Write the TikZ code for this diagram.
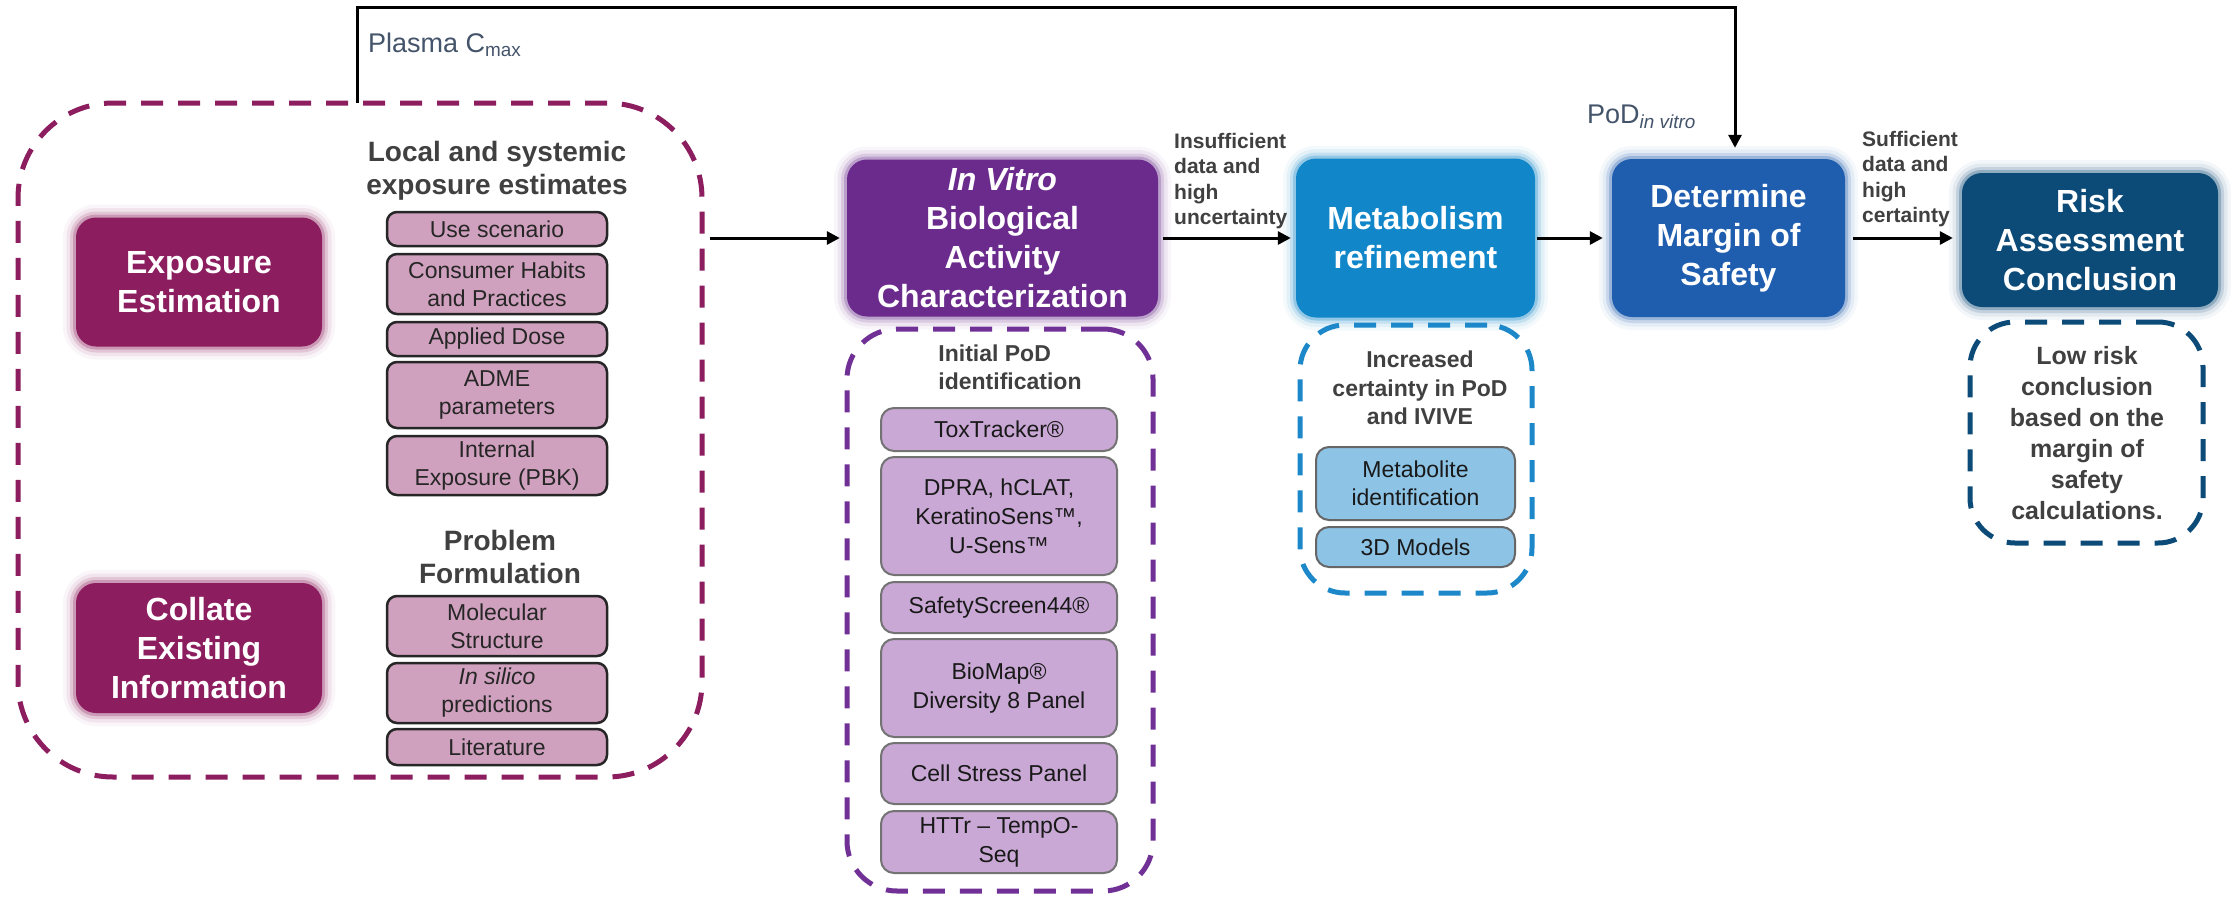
\documentclass[tikz,border=0pt]{standalone}
\usepackage{fontspec}
\setmainfont{Liberation Sans}
\usetikzlibrary{arrows.meta}
\definecolor{cExp}{RGB}{140,29,94}
\definecolor{cVit}{RGB}{107,43,140}
\definecolor{cMet}{RGB}{17,135,202}
\definecolor{cDet}{RGB}{31,93,174}
\definecolor{cRisk}{RGB}{12,74,119}
\definecolor{cSubL}{RGB}{208,161,190}
\definecolor{cSubV}{RGB}{201,168,213}
\definecolor{cSubM}{RGB}{141,196,230}
\definecolor{cHead}{RGB}{64,64,64}
\definecolor{cSlate}{RGB}{68,84,106}
\definecolor{cVitDash}{RGB}{112,48,150}
\definecolor{cMetDash}{RGB}{28,136,201}
\begin{document}
\begin{tikzpicture}[x=1pt,y=-1pt,
  mainbox/.style={rectangle, rounded corners=20pt, fill=#1, text=white, align=center,
    inner sep=0pt, font=\fontsize{32}{39}\selectfont\bfseries,
    preaction={draw=#1!35, line width=26pt, opacity=0.12},
    preaction={draw=#1!45, line width=19pt, opacity=0.18},
    preaction={draw=#1!55, line width=12pt, opacity=0.3},
    preaction={draw=#1!70, line width=6pt, opacity=0.45}},
  subL/.style={rectangle, rounded corners=10pt, fill=cSubL, draw=black!85, line width=2.5pt,
    align=center, inner sep=0pt, minimum width=220pt, text=black!85,
    font=\fontsize{23}{28}\selectfont},
  subV/.style={rectangle, rounded corners=13pt, fill=cSubV, draw=black!55, line width=2pt,
    align=center, inner sep=0pt, minimum width=236pt, text=black!90,
    font=\fontsize{23}{29}\selectfont},
  subM/.style={rectangle, rounded corners=13pt, fill=cSubM, draw=black!60, line width=2pt,
    align=center, inner sep=0pt, minimum width=199pt, text=black!90,
    font=\fontsize{23}{28}\selectfont},
  grpbox/.style={rectangle, draw=#1, line width=5pt, dash pattern=on 22pt off 15pt,
    inner sep=0pt},
  headtxt/.style={text=cHead, align=center, inner sep=0pt, font=\bfseries},
  lbl/.style={text=cSlate, inner sep=0pt, font=\fontsize{27}{32}\selectfont},
  sidelbl/.style={text=cHead, align=left, anchor=north west, inner sep=0pt,
    font=\fontsize{21}{25.5}\selectfont\bfseries},
  arr/.style={draw=black, line width=3pt, line join=miter,
    -{Triangle[length=13pt,width=13pt]}}
]
\useasboundingbox (0,0) rectangle (2231,897);
\fill[white] (0,0) rectangle (2231,897);

% ---------- left group ----------
\node[grpbox=cExp, rounded corners=95pt, minimum width=684pt, minimum height=674pt] (lgroup) at (360,440) {};
\node[mainbox=cExp, minimum width=246pt, minimum height=129pt] (exp) at (199,282) {Exposure\\Estimation};
\node[mainbox=cExp, minimum width=246pt, minimum height=130pt] (col) at (199,648) {Collate\\Existing\\Information};

\node[headtxt, font=\fontsize{28}{33}\selectfont\bfseries] (h1) at (497,171) {Local and systemic\\exposure estimates};
\node[subL, minimum height=34pt] (use) at (497,229) {Use scenario};
\node[subL, minimum height=60pt] (cons) at (497,284) {Consumer Habits\\and Practices};
\node[subL, minimum height=34pt] (dose) at (497,339) {Applied Dose};
\node[subL, minimum height=66pt] (adme) at (497,395) {ADME\\parameters};
\node[subL, minimum height=59pt] (pbk) at (497,465.5) {Internal\\Exposure (PBK)};

\node[headtxt, font=\fontsize{28}{33}\selectfont\bfseries] (h2) at (500,557) {Problem\\Formulation};
\node[subL, minimum height=60pt] (mol) at (497,626) {Molecular\\Structure};
\node[subL, minimum height=60pt] (sil) at (497,693) {\textit{In silico}\\predictions};
\node[subL, minimum height=36pt] (lit) at (497,747) {Literature};

% ---------- in vitro ----------
\node[mainbox=cVit, minimum width=311pt, minimum height=157pt] (vitro) at (1002.5,238)
  {\textit{In Vitro}\\Biological\\Activity\\Characterization};
\node[grpbox=cVitDash, rounded corners=50pt, minimum width=306pt, minimum height=562pt] (vgroup) at (1000,610) {};
\node[headtxt, align=left, font=\fontsize{23}{28}\selectfont\bfseries] (h3) at (1010,367) {Initial PoD\\identification};
\node[subV, minimum height=43pt] (tox) at (999,429.5) {ToxTracker®};
\node[subV, minimum height=118pt] (dpra) at (999,516) {DPRA, hCLAT,\\KeratinoSens™,\\U-Sens™};
\node[subV, minimum height=51pt] (ss) at (999,607.5) {SafetyScreen44®};
\node[subV, minimum height=98pt] (bio) at (999,688) {BioMap®\\Diversity 8 Panel};
\node[subV, minimum height=61pt] (cell) at (999,773.5) {Cell Stress Panel};
\node[subV, minimum height=62pt] (httr) at (999,842) {HTTr – TempO-\\Seq};

% ---------- metabolism ----------
\node[mainbox=cMet, minimum width=239pt, minimum height=159pt] (met) at (1415.5,238) {Metabolism\\refinement};
\node[grpbox=cMetDash, rounded corners=45pt, minimum width=232pt, minimum height=268pt] (mgroup) at (1416,459) {};
\node[headtxt, font=\fontsize{23}{28.5}\selectfont\bfseries] (h4) at (1420,388) {Increased\\certainty in PoD\\and IVIVE};
\node[subM, minimum height=73pt] (metid) at (1415.5,483.5) {Metabolite\\identification};
\node[subM, minimum height=40pt] (m3d) at (1415.5,547) {3D Models};

% ---------- determine ----------
\node[mainbox=cDet, minimum width=233pt, minimum height=158pt] (det) at (1728.5,238) {Determine\\Margin of\\Safety};

% ---------- risk ----------
\node[mainbox=cRisk, minimum width=256pt, minimum height=134pt] (risk) at (2090,240) {Risk\\Assessment\\Conclusion};
\node[grpbox=cRisk, rounded corners=45pt, minimum width=233pt, minimum height=221pt] (rgroup) at (2086.5,432.5) {};
\node[headtxt, font=\fontsize{25}{31}\selectfont\bfseries] (h5) at (2087,433) {Low risk\\conclusion\\based on the\\margin of\\safety\\calculations.};

% ---------- labels ----------
\node[lbl, anchor=west] (plasma) at (368,45) {Plasma C\textsubscript{max}};
\node[lbl, anchor=west] (pod) at (1587,117) {PoD\textsubscript{\itshape in vitro}};
\node[sidelbl] (insuf) at (1174,133) {Insufficient\\data and\\high\\uncertainty};
\node[sidelbl] (suf) at (1862,131) {Sufficient\\data and\\high\\certainty};

% ---------- connectors ----------
\coordinate (cmax) at (357,103);
\coordinate (toprt) at (1735,7);
\draw[arr, shorten >=11pt] (cmax) |- (toprt) -- (toprt |- det.north);
\draw[arr, shorten <=5pt, shorten >=7pt] (vitro.west -| lgroup.east) -- (vitro.west);
\draw[arr, shorten <=5pt, shorten >=5pt] (vitro.east) -- (met.west);
\draw[arr, shorten <=2pt, shorten >=9pt] (met.east) -- (met.east -| det.west);
\draw[arr, shorten <=8pt, shorten >=9pt] (det.east) -- (det.east -| risk.west);
\end{tikzpicture}
\end{document}
